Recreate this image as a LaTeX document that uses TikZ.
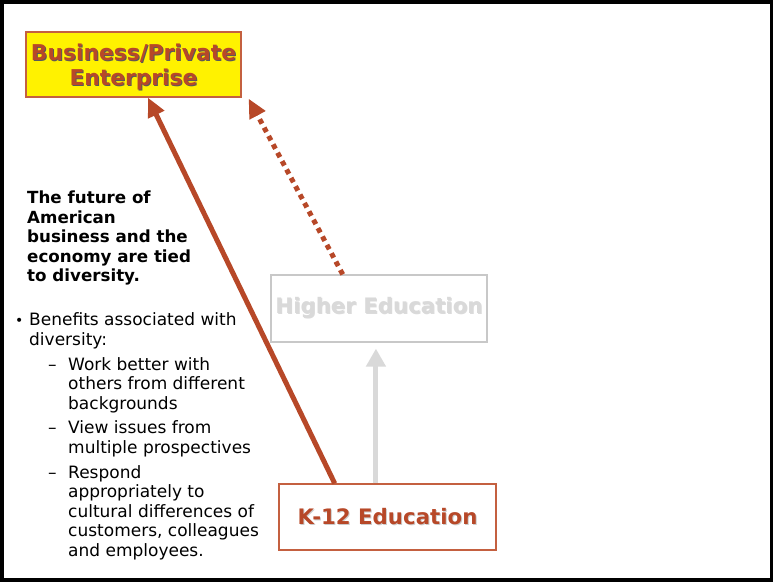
\documentclass[tikz,border=0pt]{standalone}
\usepackage{fontspec}
\setmainfont{DejaVu Sans}
\usepackage{xcolor}
\usetikzlibrary{arrows.meta,positioning,calc}
\definecolor{rust}{RGB}{183,72,40}
\definecolor{rustEdge}{RGB}{196,96,64}
\definecolor{paleGray}{RGB}{217,217,217}
\definecolor{paleEdge}{RGB}{200,200,200}
\newcommand{\shadowed}[2]{\makebox[0pt][l]{\hspace{1pt}\raisebox{-1pt}{\textcolor{#1}{#2}}}#2}

\begin{document}
\begin{tikzpicture}[x=1pt, y=-1pt,
  titlebox/.style = {draw, line width=1.2pt, minimum width=216pt, minimum height=66pt,
    inner sep=0pt, align=center, font=\fontsize{21.3}{25}\selectfont\bfseries},
  link/.style = {line width=5pt, -{Triangle[width=17pt,length=19pt]}},
  dotlink/.style = {dash pattern=on 5pt off 4.5pt, line cap=butt}]
\useasboundingbox (0,0) rectangle (773,581);
% Slide frame
\draw[line width=3.5pt] (1.8,1.8) rectangle (771.8,579.8);
% Boxes
\node[titlebox, draw = rustEdge, fill = yellow, text = rust, minimum width = 215pt, minimum height = 65pt,
  font = \fontsize{21.8}{25}\selectfont\bfseries] (biz) at (133.5,64.5)
  {\rule{0pt}{23pt}\shadowed{black!65}{Business/Private}\\\shadowed{black!65}{Enterprise}};
\node[titlebox, draw = paleEdge, text = paleGray, minimum height = 67pt] (higher) at (379,308.5)
  {\shadowed{black!14}{Higher Education}};
\node[titlebox, draw = rustEdge, text = rust, minimum width = 217pt] (k12) at (387.5,517)
  {\shadowed{black!20}{K-12 Education}};
% Connectors
\coordinate (k12left) at ($(k12.north west)!0.258!(k12.north east)$);
\coordinate (k12mid) at ($(k12.north west)!0.447!(k12.north east)$);
\coordinate (higherleft) at ($(higher.north west)!0.333!(higher.north east)$);
\draw[link, rust] (k12left) -- ($(biz.south west)!0.567!(biz.south east)$);
\draw[link, rust, dotlink] (higherleft) -- ($(biz.south east)+(7,1)$);
\draw[link, paleGray, -{Triangle[width=19pt,length=18pt]}, shorten >= 6pt] (k12mid) -- (k12mid |- higher.south);
% Left text
\node[anchor = north west, inner sep = 0pt, align = left, font = \fontsize{16.7}{19.5}\selectfont\bfseries] (future) at (27,191)
  {The future of\\American\\business and the\\economy are tied\\to diversity.};
\node[anchor = north west, inner sep = 0pt, font = \fontsize{17}{19.6}\selectfont] (benefits) at (15,312) {%
  \begin{tabular}{@{}p{14pt}@{}p{19pt}@{}p{20pt}@{}l@{}}
  {\fontsize{14}{14}\selectfont\textbullet} & \multicolumn{3}{@{}l@{}}{Benefits associated with}\\
  & \multicolumn{3}{@{}l@{}}{diversity:}\\[5pt]
  & & -- & Work better with\\
  & & & others from different\\
  & & & backgrounds\\[5pt]
  & & -- & View issues from\\
  & & & multiple prospectives\\[5pt]
  & & -- & Respond\\
  & & & appropriately to\\
  & & & cultural differences of\\
  & & & customers, colleagues\\
  & & & and employees.
  \end{tabular}};
\end{tikzpicture}
\end{document}
